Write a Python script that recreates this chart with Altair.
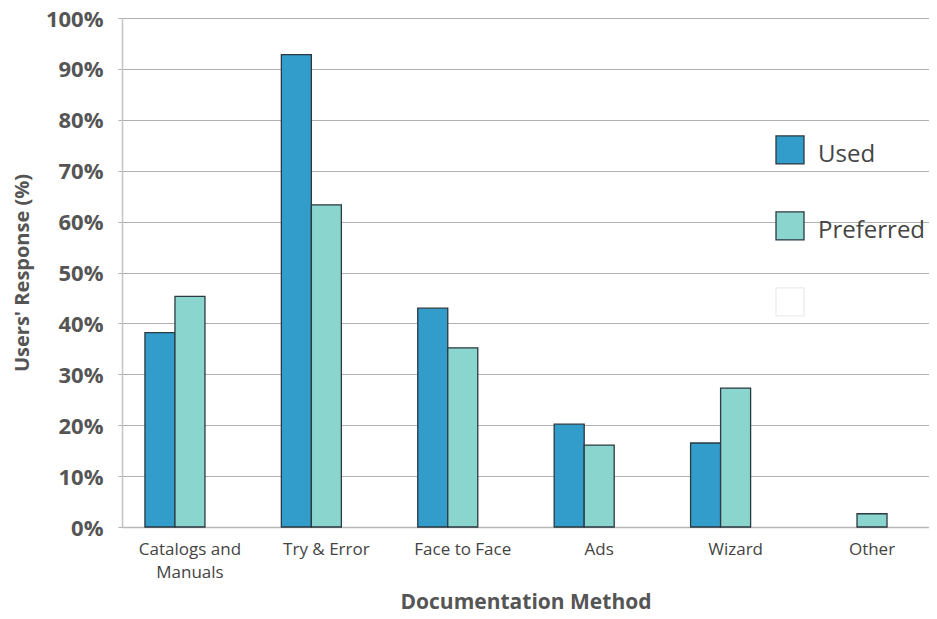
import altair as alt
import pandas as pd

categories = ["Catalogs and Manuals", "Try & Error", "Face to Face", "Ads", "Wizard", "Other"]
used = [38.2, 92.8, 43.0, 20.2, 16.5, None]
preferred = [45.3, 63.3, 35.2, 16.1, 27.3, 2.6]
series = ["Used", "Preferred", "Blank"]
series_fill = ["#329dca", "#8bd5cf", "#ffffff"]
series_stroke = ["#2b3940", "#2b3940", "#ececec"]
y_ticks = [0, 0.1, 0.2, 0.3, 0.4, 0.5, 0.6, 0.7, 0.8, 0.9, 1.0]

rows = []
for c, u, p in zip(categories, used, preferred):
    if u is not None:
        rows.append({"method": c, "series": "Used", "value": u / 100})
    if p is not None:
        rows.append({"method": c, "series": "Preferred", "value": p / 100})
df = pd.DataFrame(rows)

FONT = "Open Sans"

legend_common = dict(
    title=None,
    orient="none",
    legendX=653,
    legendY=122,
    symbolType="M-1,-1.36H1V0.64H-1Z",
    symbolSize=784,
    symbolStrokeWidth=1.3,
    symbolOpacity=1,
    labelFont=FONT,
    labelFontSize=24,
    labelColor="#444444",
    labelOffset=13,
    labelBaseline="middle",
    rowPadding=42,
    padding=0,
    labelExpr="datum.label == 'Blank' ? '' : datum.label",
)

chart = alt.Chart(df).mark_bar(strokeWidth=1.3).encode(
    x=alt.X(
        "method:N",
        sort=categories,
        scale=alt.Scale(domain=categories, paddingInner=0.34, paddingOuter=0.128, align=0.657),
        axis=alt.Axis(
            title="Documentation Method",
            labelAngle=0,
            labelExpr="datum.value == 'Catalogs and Manuals' ? ['Catalogs and', 'Manuals'] : datum.value",
            labelFont=FONT,
            labelFontSize=17,
            labelColor="#444444",
            labelLineHeight=23,
            labelPadding=14,
            labelBaseline="top",
            ticks=False,
            domainColor="#b8b8b8",
            domainWidth=1.5,
            titleFont=FONT,
            titleFontSize=21,
            titleFontWeight="bold",
            titleColor="#555555",
            titlePadding=11,
        ),
    ),
    xOffset=alt.XOffset(
        "series:N",
        scale=alt.Scale(domain=series, paddingInner=0, paddingOuter=0),
    ),
    y=alt.Y(
        "value:Q",
        scale=alt.Scale(domain=[0, 1], nice=False),
        axis=alt.Axis(
            title="Users' Response (%)",
            values=y_ticks,
            format=".0%",
            labelFont=FONT,
            labelFontSize=22,
            labelFontWeight="bold",
            labelColor="#555555",
            labelPadding=15,
            labelBaseline="alphabetic",
            labelOffset=8,
            tickSize=4,
            tickColor="#b0b0b0",
            domainColor="#c4c4c4",
            domainWidth=1.5,
            gridColor="#b0b0b0",
            gridWidth=1,
            titleFont=FONT,
            titleFontSize=20,
            titleFontWeight="bold",
            titleColor="#555555",
            titlePadding=13,
        ),
    ),
    color=alt.Color(
        "series:N",
        scale=alt.Scale(domain=series, range=series_fill),
        legend=alt.Legend(**legend_common),
    ),
    stroke=alt.Stroke(
        "series:N",
        scale=alt.Scale(domain=series, range=series_stroke),
        legend=alt.Legend(**legend_common),
    ),
).properties(
    width=807,
    height=509,
    autosize=alt.AutoSizeParams(type="none"),
    padding={"left": 114, "top": 10, "right": 0, "bottom": 84},
).configure_view(stroke=None).configure(font=FONT)

chart.save("out.html", embed_options={"renderer": "svg", "actions": False})
